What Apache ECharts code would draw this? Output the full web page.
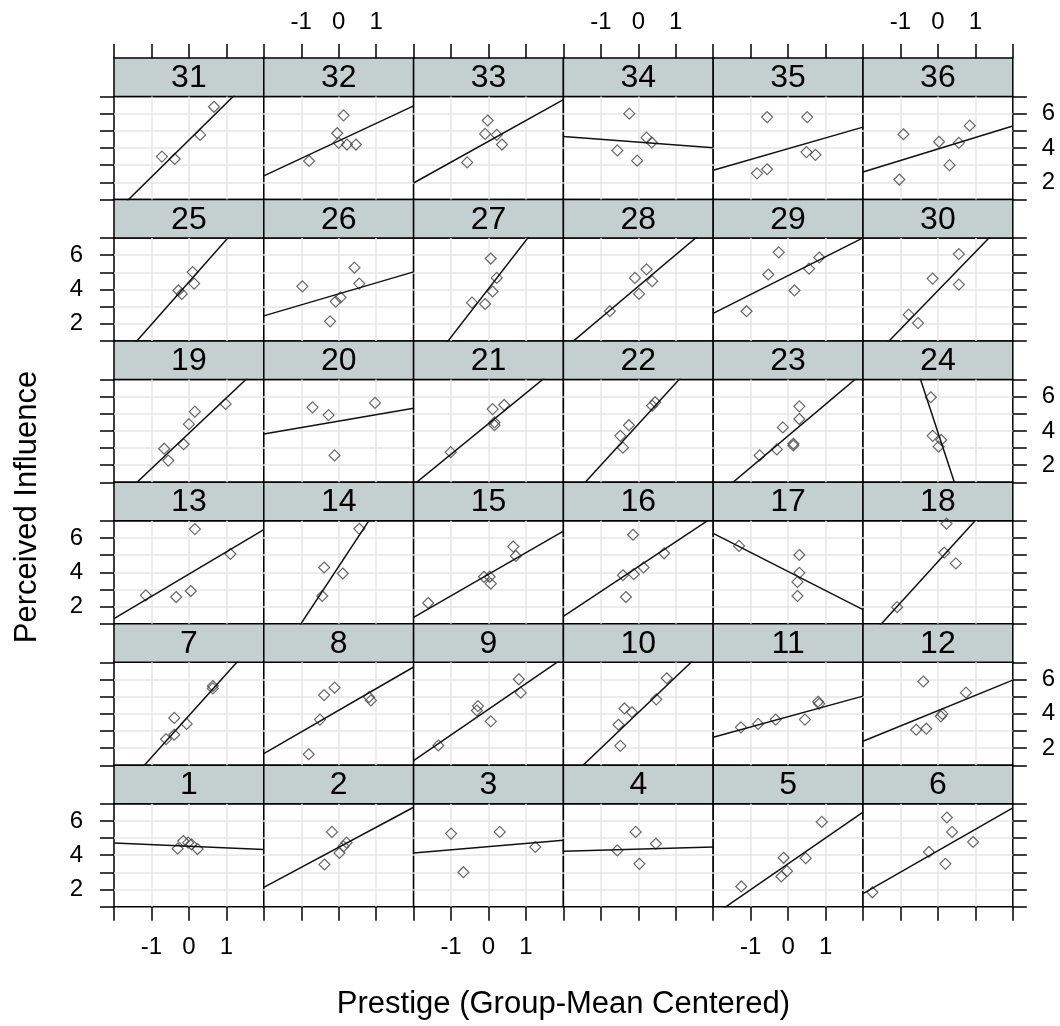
<!DOCTYPE html>
<html>
<head>
<meta charset="utf-8">
<script src="https://cdn.jsdelivr.net/npm/echarts@6/dist/echarts.min.js"></script>
<style>
  html, body { margin: 0; padding: 0; background: #fff; }
  #chart { width: 1060px; height: 1026px; }
</style>
</head>
<body>
<div id="chart"></div>
<script>
// groups 1..36 (bottom row first, left to right)
const panelIds = [];
for (let k = 1; k <= 36; k++) panelIds.push(k);

// prestige (group-mean centered), one list per group
const prestige = [
  [-0.30, -0.15, -0.02, 0.07, 0.23],
  [-0.18, -0.38, 0.02, 0.13, 0.21],
  [-1.00, 0.30, 1.25, -0.67],
  [-0.07, -0.56, 0.47, 0.03],
  [0.90, 0.47, -0.12, -0.03, -0.18, -1.25],
  [0.24, 0.38, 0.94, -0.24, 0.20, -1.75],
  [0.64, 0.64, -0.39, -0.06, -0.39, -0.61],
  [-0.39, -0.11, 0.81, 0.86, -0.50, -0.80],
  [0.81, 0.86, -0.28, -0.31, 0.06, -1.34],
  [0.76, 0.48, -0.37, -0.17, -0.53, -0.48],
  [-1.26, -0.80, -0.33, 0.45, 0.80, 0.83],
  [-0.39, 0.75, 0.12, 0.08, -0.58, -0.31],
  [0.16, 1.11, -1.15, -0.34, 0.05],
  [0.55, -0.39, 0.11, -0.44],
  [0.66, 0.73, -0.12, 0.03, 0.06, -1.61],
  [-0.14, 0.69, 0.14, -0.12, -0.41, -0.33],
  [-1.31, 0.30, 0.30, 0.25, 0.25],
  [0.23, 0.17, 0.48, -1.09],
  [0.98, 0.16, 0.00, -0.14, -0.66, -0.55],
  [-0.70, -0.27, 0.97, -0.11],
  [0.11, 0.42, 0.16, 0.16, -1.01],
  [0.45, 0.37, -0.25, -0.48, -0.41],
  [0.30, 0.30, -0.14, 0.14, 0.14, -0.30, -0.76],
  [-0.19, -0.14, 0.09, 0.02],
  [0.10, 0.14, -0.28, -0.19],
  [0.42, -0.97, 0.55, 0.05, -0.08, -0.23],
  [0.06, 0.22, 0.11, -0.44, -0.09],
  [0.22, -0.09, 0.37, 0.02, -0.76],
  [-0.25, -0.53, 0.83, 0.56, 0.17, -1.11],
  [0.56, -0.14, 0.56, -0.78, -0.53],
  [0.67, 0.30, -0.72, -0.38],
  [0.13, -0.04, 0.00, 0.22, 0.46, -0.79],
  [-0.02, -0.09, 0.22, 0.36, -0.57],
  [-0.24, 0.22, 0.36, -0.56, -0.03],
  [-0.56, 0.51, 0.49, 0.73, -0.83, -0.56],
  [-0.92, 0.03, 0.56, 0.85, 0.31, -1.03]
];

// perceived influence, same order
const influence = [
  [4.38, 4.83, 4.73, 4.63, 4.36],
  [5.36, 3.46, 4.13, 4.52, 4.73],
  [5.26, 5.36, 4.48, 3.01],
  [5.36, 4.28, 4.67, 3.50],
  [5.94, 3.83, 3.85, 3.07, 2.76, 2.18],
  [6.20, 5.36, 4.77, 4.19, 3.50, 1.84],
  [5.62, 5.48, 3.76, 3.41, 2.78, 2.52],
  [5.09, 5.52, 4.97, 4.78, 3.66, 1.64],
  [6.01, 5.23, 4.45, 4.19, 3.56, 2.15],
  [6.07, 4.84, 4.31, 4.09, 3.36, 2.13],
  [3.21, 3.41, 3.66, 3.66, 4.70, 4.58],
  [5.88, 5.23, 3.99, 3.85, 3.07, 3.13],
  [6.52, 5.07, 2.66, 2.56, 2.91],
  [6.54, 4.28, 3.93, 2.62],
  [5.50, 4.95, 3.74, 3.74, 3.34, 2.21],
  [6.19, 5.11, 4.28, 3.89, 3.83, 2.56],
  [5.54, 5.01, 3.97, 3.44, 2.62],
  [6.83, 5.15, 4.52, 1.97],
  [5.57, 5.12, 4.39, 3.22, 2.96, 2.27],
  [5.37, 4.92, 5.63, 2.57],
  [5.27, 5.51, 4.49, 4.33, 2.76],
  [5.67, 5.47, 4.33, 3.71, 3.02],
  [5.43, 4.69, 4.20, 3.25, 3.15, 2.92, 2.57],
  [5.96, 3.71, 3.47, 3.08],
  [5.01, 4.34, 3.94, 3.74],
  [5.27, 4.18, 4.34, 3.54, 3.29, 2.14],
  [5.80, 4.67, 3.88, 3.23, 3.15],
  [5.17, 4.67, 4.48, 3.74, 2.73],
  [6.16, 4.87, 5.86, 5.21, 3.94, 2.73],
  [6.06, 4.63, 4.28, 2.53, 2.04],
  [6.40, 4.76, 3.50, 3.36],
  [5.90, 4.86, 4.30, 4.20, 4.20, 3.24],
  [5.60, 4.82, 4.76, 4.20, 3.16],
  [6.00, 4.60, 4.32, 3.86, 3.26],
  [5.80, 5.80, 3.76, 3.60, 2.52, 2.76],
  [4.80, 4.36, 4.30, 5.30, 3.00, 2.16]
];

// fitted regression line per group (value at x = 0, and slope)
const fitIntercept = [4.52, 4.46, 4.50, 4.36, 3.50, 4.26, 3.89, 4.20, 4.26, 4.07, 3.83, 4.18,
  3.89, 4.34, 3.89, 4.33, 4.05, 4.62, 3.86, 4.57, 4.42, 4.39, 3.71, 3.92,
  4.43, 3.74, 4.04, 4.18, 4.80, 3.93, 4.46, 4.41, 4.39, 4.34, 3.96, 3.94];
const fitSlope = [-0.093, 1.167, 0.186, 0.061, 1.507, 1.249, 2.43, 1.263, 1.497, 2.08, 0.60, 0.89,
  1.297, 3.31, 1.256, 1.449, -1.112, 2.40, 2.06, 0.377, 1.78, 2.39, 1.84, -6.63,
  2.47, 0.641, 2.82, 1.84, 1.10, 2.25, 2.15, 1.02, 1.215, -0.163, 0.628, 0.668];

const xTickLabels = [-1, 0, 1];
const yTickLabels = [2, 4, 6];

// layout
const LEFT = 114, COL_W = 149.8, TOP = 58, ROW_H = 141.45, STRIP_H = 38.5;
const PANEL_H = ROW_H - STRIP_H;
const FONT = '"Liberation Sans", Arial, sans-serif';

const chart = echarts.init(document.getElementById('chart'));

const grids = [], xAxes = [], yAxes = [], series = [], graphics = [];

panelIds.forEach(function (id, i) {
  const col = i % 6;
  const rowFromBottom = Math.floor(i / 6);
  const row = 5 - rowFromBottom;
  const left = LEFT + COL_W * col;
  const stripTop = TOP + ROW_H * row;
  const top = stripTop + STRIP_H;

  grids.push({
    left: left, top: top, width: COL_W, height: PANEL_H,
    show: true, borderColor: '#000', borderWidth: 1.5, backgroundColor: '#fff'
  });

  const isTop = row === 0, isBottom = row === 5;
  const xOuter = isTop || isBottom;
  const xLabeled = (isTop && col % 2 === 1) || (isBottom && col % 2 === 0);
  xAxes.push({
    gridIndex: i, type: 'value', min: -2, max: 2, interval: 1,
    position: isTop ? 'top' : 'bottom',
    offset: isTop ? STRIP_H : 0,
    axisLine: { show: false, onZero: false },
    axisTick: { show: xOuter, length: 14, lineStyle: { color: '#000', width: 1.5 } },
    axisLabel: {
      show: xLabeled, margin: isTop ? 24 : 29, fontSize: 24, fontFamily: FONT, color: '#000',
      showMinLabel: true, showMaxLabel: true,
      formatter: function (v) { return xTickLabels.indexOf(v) >= 0 ? String(v) : ''; }
    },
    splitLine: { show: true, showMinLine: false, showMaxLine: false, lineStyle: { color: '#e6e6e6', width: 1.5 } }
  });

  const isLeft = col === 0, isRight = col === 5;
  const yOuter = isLeft || isRight;
  const yLabeled = (isLeft && rowFromBottom % 2 === 0) || (isRight && rowFromBottom % 2 === 1);
  yAxes.push({
    gridIndex: i, type: 'value', min: 1, max: 7, interval: 1,
    position: isRight ? 'right' : 'left',
    axisLine: { show: false, onZero: false },
    axisTick: { show: yOuter, length: 14, lineStyle: { color: '#000', width: 1.5 } },
    axisLabel: {
      show: yLabeled, margin: isRight ? 29 : 31, fontSize: 24, fontFamily: FONT, color: '#000',
      formatter: function (v) { return yTickLabels.indexOf(v) >= 0 ? String(v) : ''; }
    },
    splitLine: { show: true, showMinLine: false, showMaxLine: false, lineStyle: { color: '#e6e6e6', width: 1.5 } }
  });

  series.push({
    type: 'scatter', xAxisIndex: i, yAxisIndex: i,
    symbol: 'diamond', symbolSize: 11, silent: true,
    itemStyle: { color: 'rgba(0,0,0,0)', borderColor: '#444', borderWidth: 1.2 },
    data: prestige[i].map(function (x, k) { return [x, influence[i][k]]; })
  });

  const a = fitIntercept[i], b = fitSlope[i];
  series.push({
    type: 'line', xAxisIndex: i, yAxisIndex: i, clip: true,
    symbol: 'none', silent: true,
    lineStyle: { color: '#111', width: 1.5 },
    data: [[-2, a - 2 * b], [2, a + 2 * b]]
  });

  // strip with group number
  graphics.push({
    type: 'rect', silent: true,
    shape: { x: left, y: stripTop, width: COL_W, height: STRIP_H },
    style: { fill: '#c4cfcf', stroke: '#000', lineWidth: 1.5 }
  });
  graphics.push({
    type: 'text', silent: true, x: left + COL_W / 2, y: stripTop + STRIP_H / 2 + 1,
    style: { text: String(id), fill: '#000', font: '32px ' + FONT, align: 'center', verticalAlign: 'middle' }
  });
});

// axis titles
graphics.push({
  type: 'text', silent: true, x: LEFT + COL_W * 3, y: 1004,
  style: { text: 'Prestige (Group-Mean Centered)', fill: '#000', font: '31px ' + FONT, align: 'center', verticalAlign: 'middle' }
});
graphics.push({
  type: 'text', silent: true, x: 27, y: 507, rotation: Math.PI / 2,
  style: { text: 'Perceived Influence', fill: '#000', font: '31px ' + FONT, align: 'center', verticalAlign: 'middle' }
});

const option = {
  animation: false,
  backgroundColor: '#fff',
  grid: grids,
  xAxis: xAxes,
  yAxis: yAxes,
  series: series,
  graphic: graphics
};

chart.setOption(option);
</script>
</body>
</html>
